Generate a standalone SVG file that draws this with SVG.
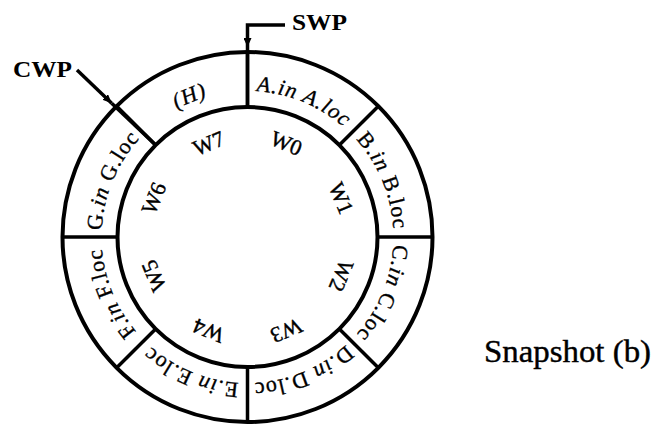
<svg xmlns="http://www.w3.org/2000/svg" width="654" height="425" viewBox="0 0 654 425">
  <style>
    .ring { fill: none; stroke: #000; stroke-width: 4; }
    .div { stroke: #000; stroke-width: 3.5; }
    .ptr { fill: none; stroke: #000; stroke-width: 3.5; }
    .seg { font-family: "Liberation Serif", "Times New Roman", serif; font-size: 22px; letter-spacing: 1px; fill: #000; stroke: #000; stroke-width: 0.35px; }
    .it { font-style: italic; }
    .win { font-family: "Liberation Serif", "Times New Roman", serif; font-size: 22px; text-anchor: middle; fill: #000; stroke: #000; stroke-width: 0.4px; }
    .tag { font-family: "Liberation Serif", "Times New Roman", serif; font-size: 24px; font-weight: bold; fill: #000; }
    .cap { font-family: "Liberation Serif", "Times New Roman", serif; font-size: 31px; fill: #000; stroke: #000; stroke-width: 0.4px; }
  </style>
  <defs>
    <!-- clockwise baseline circle for the slot labels, starting at 12 o'clock -->
    <path id="slot-path" d="M247.5,91 A146,146 0 1 1 247.5,383 A146,146 0 1 1 247.5,91" fill="none"/>
    <marker id="tip" markerUnits="userSpaceOnUse" markerWidth="9" markerHeight="8" viewBox="0 0 9 8" refX="9" refY="4" orient="auto">
      <path d="M0,0 L9,4 L0,8 z" fill="#000"/>
    </marker>
  </defs>

  <!-- register window ring -->
  <g id="ring">
    <circle class="ring" cx="247.5" cy="237" r="185"/>
    <circle class="ring" cx="247.5" cy="237" r="130"/>
    <line class="div" x1="247.5" y1="107" x2="247.5" y2="52"/>
    <line class="div" x1="339.4" y1="145.1" x2="378.3" y2="106.2"/>
    <line class="div" x1="377.5" y1="237" x2="432.5" y2="237"/>
    <line class="div" x1="339.4" y1="328.9" x2="378.3" y2="367.8"/>
    <line class="div" x1="247.5" y1="367" x2="247.5" y2="422"/>
    <line class="div" x1="155.6" y1="328.9" x2="116.7" y2="367.8"/>
    <line class="div" x1="117.5" y1="237" x2="62.5" y2="237"/>
    <line class="div" x1="155.6" y1="145.1" x2="116.7" y2="106.2"/>
  </g>

  <!-- window slots: outer label + window name -->
  <g id="slot-A">
    <text class="seg it"><textPath href="#slot-path" startOffset="57.3" text-anchor="middle">A.in A.loc</textPath></text>
    <text class="win" x="247.5" y="143" transform="rotate(22.5 247.5 237)">W0</text>
  </g>
  <g id="slot-B">
    <text class="seg"><textPath href="#slot-path" startOffset="172" text-anchor="middle">B.<tspan class="it">in</tspan> B.loc</textPath></text>
    <text class="win" x="247.5" y="143" transform="rotate(67.5 247.5 237)">W1</text>
  </g>
  <g id="slot-C">
    <text class="seg"><textPath href="#slot-path" startOffset="286.7" text-anchor="middle">C.<tspan class="it">in</tspan> C.loc</textPath></text>
    <text class="win" x="247.5" y="143" transform="rotate(112.5 247.5 237)">W2</text>
  </g>
  <g id="slot-D">
    <text class="seg"><textPath href="#slot-path" startOffset="401.3" text-anchor="middle">D.<tspan class="it">in</tspan> D.loc</textPath></text>
    <text class="win" x="247.5" y="143" transform="rotate(157.5 247.5 237)">W3</text>
  </g>
  <g id="slot-E">
    <text class="seg"><textPath href="#slot-path" startOffset="516" text-anchor="middle">E.<tspan class="it">in</tspan> E.loc</textPath></text>
    <text class="win" x="247.5" y="143" transform="rotate(202.5 247.5 237)">W4</text>
  </g>
  <g id="slot-F">
    <text class="seg"><textPath href="#slot-path" startOffset="630.6" text-anchor="middle">F.<tspan class="it">in</tspan> F.loc</textPath></text>
    <text class="win" x="247.5" y="143" transform="rotate(247.5 247.5 237)">W5</text>
  </g>
  <g id="slot-G">
    <text class="seg"><textPath href="#slot-path" startOffset="745.3" text-anchor="middle">G.<tspan class="it">in</tspan> G.loc</textPath></text>
    <text class="win" x="247.5" y="143" transform="rotate(292.5 247.5 237)">W6</text>
  </g>
  <g id="slot-H">
    <text class="seg it"><textPath href="#slot-path" startOffset="860" text-anchor="middle">(H)</textPath></text>
    <text class="win" x="247.5" y="143" transform="rotate(337.5 247.5 237)">W7</text>
  </g>

  <!-- window pointers -->
  <g id="connectors">
    <path class="ptr" d="M285,25 H247.5 V47" marker-end="url(#tip)"/>
    <path class="ptr" d="M247.5,47 V107"/>
    <path class="ptr" d="M77,70 L111.7,103.2" marker-end="url(#tip)"/>
    <path class="ptr" d="M111.7,103.2 L155.6,145.1"/>
  </g>

  <g id="SWP">
    <text class="tag" x="292" y="30" textLength="55" lengthAdjust="spacingAndGlyphs">SWP</text>
  </g>
  <g id="CWP">
    <text class="tag" x="13" y="77" textLength="59" lengthAdjust="spacingAndGlyphs">CWP</text>
  </g>

  <text class="cap" x="484" y="362" textLength="167" lengthAdjust="spacingAndGlyphs">Snapshot (b)</text>
</svg>
